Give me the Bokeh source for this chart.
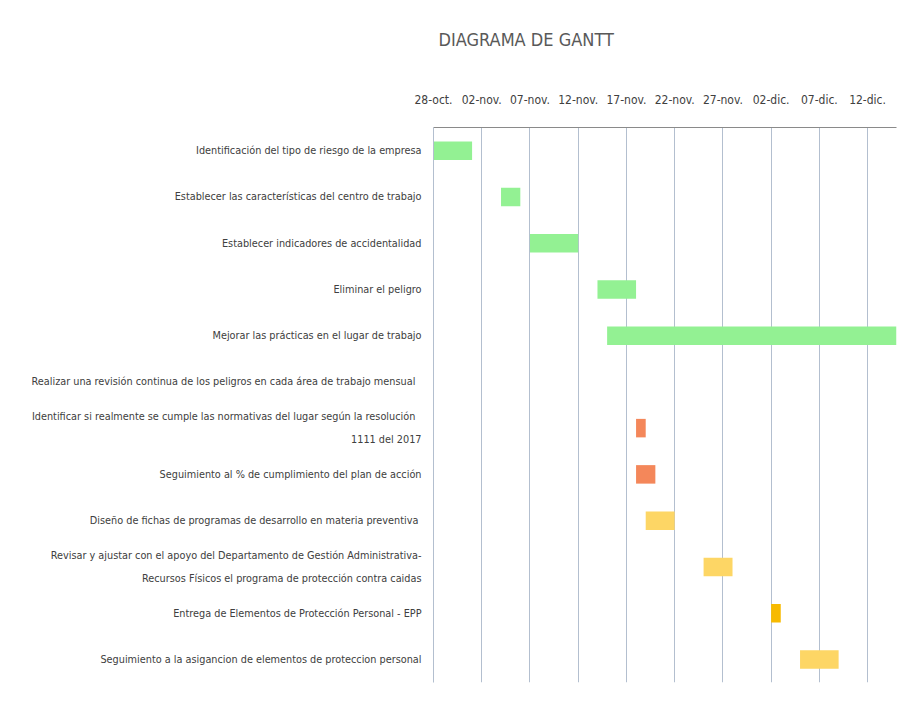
import pandas as pd
from bokeh.plotting import figure
from bokeh.models import ColumnDataSource, Range1d, FixedTicker, FactorRange, Title
from bokeh.embed import file_html
from bokeh.resources import INLINE

# ---------------- data ----------------
title_text = "DIAGRAMA DE GANTT"
tasks = [
    "Identificación del tipo de riesgo de la empresa",
    "Establecer las características del centro de trabajo",
    "Establecer indicadores de accidentalidad",
    "Eliminar el peligro",
    "Mejorar las prácticas en el lugar de trabajo",
    "Realizar una revisión continua de los peligros  en cada área de trabajo  mensual",
    "Identificar si realmente se cumple las normativas del  lugar según  la resolución\n1111 del 2017",
    "Seguimiento al % de cumplimiento del plan de acción",
    "Diseño de fichas de programas de desarrollo  en materia preventiva",
    "Revisar y ajustar con el apoyo del Departamento de Gestión Administrativa-\nRecursos Físicos el programa de protección contra caidas",
    "Entrega de Elementos de Protección Personal - EPP",
    "Seguimiento a la asigancion de elementos de proteccion personal",
]
start_dates = ["2019-10-28", "2019-11-04", "2019-11-07", "2019-11-14", "2019-11-15", None,
               "2019-11-18", "2019-11-18", "2019-11-19", "2019-11-25", "2019-12-02", "2019-12-05"]
durations = [4, 2, 5, 4, 30, 0, 1, 2, 3, 3, 1, 4]
bar_colors = ["#93F193", "#93F193", "#93F193", "#93F193", "#93F193", "#93F193",
              "#F4875A", "#F4875A", "#FDD665", "#FDD665", "#F7BA00", "#FDD665"]
axis_start = "2019-10-28"
axis_end = "2019-12-15"
tick_labels = ["28-oct.", "02-nov.", "07-nov.", "12-nov.", "17-nov.",
               "22-nov.", "27-nov.", "02-dic.", "07-dic.", "12-dic."]
tick_step_days = 5

# ---------------- derived ----------------
base = pd.Timestamp(axis_start)
left = [(pd.Timestamp(s) - base).days if s else float("nan") for s in start_dates]
right = [l + d for l, d in zip(left, durations)]
span = (pd.Timestamp(axis_end) - base).days
ticks = [i * tick_step_days for i in range(len(tick_labels))]

src = ColumnDataSource(dict(task=tasks, left=left, right=right, color=bar_colors))

FONT = "DejaVu Sans Condensed"
GRID = "#B3BFCF"
TXT = "#404040"

p = figure(width=905, height=706, output_backend="svg", toolbar_location=None,
           x_axis_location="above", y_axis_location="left",
           x_range=Range1d(0, span), y_range=FactorRange(factors=list(reversed(tasks))),
           min_border_left=433, min_border_right=9, min_border_top=127,
           min_border_bottom=24)
p.outline_line_color = None
p.background_fill_color = "white"
p.border_fill_color = "white"
p.y_range.range_padding = 0
p.y_range.factor_padding = 0

p.hbar(y="task", left="left", right="right", height=0.4, color="color",
       line_color=None, source=src)

ax = p.xaxis[0]
ax.ticker = FixedTicker(ticks=ticks)
ax.major_label_overrides = {t: lab for t, lab in zip(ticks, tick_labels)}
ax.axis_line_color = "#8A8A8A"
ax.axis_line_width = 1.2
ax.major_tick_line_color = None
ax.minor_tick_line_color = None
ax.major_tick_out = 0
ax.major_tick_in = 0
ax.major_label_standoff = 21
ax.major_label_text_font = FONT
ax.major_label_text_font_size = "12px"
ax.major_label_text_color = TXT

ay = p.yaxis[0]
ay.axis_line_color = GRID
ay.axis_line_width = 1
ay.major_tick_line_color = None
ay.minor_tick_line_color = None
ay.major_tick_out = 0
ay.major_tick_in = 0
ay.major_label_standoff = 12
ay.major_label_text_font = FONT
ay.major_label_text_font_size = "10.8px"
ay.major_label_text_line_height = 1.75
ay.major_label_text_color = TXT

p.xgrid.ticker = FixedTicker(ticks=ticks)
p.xgrid.grid_line_color = GRID
p.xgrid.grid_line_width = 1
p.ygrid.visible = False

# blank spacer between the date axis and the title
p.add_layout(Title(text=" ", text_font_size="8px", standoff=0), "above")

p.title.text = title_text
p.title.align = "left"
p.title.offset = 5
p.title.standoff = 54
p.title.vertical_align = "top"
p.title.text_font = FONT
p.title.text_font_size = "18px"
p.title.text_font_style = "normal"
p.title.text_color = "#595959"

open("out.html", "w").write(file_html(p, INLINE))
